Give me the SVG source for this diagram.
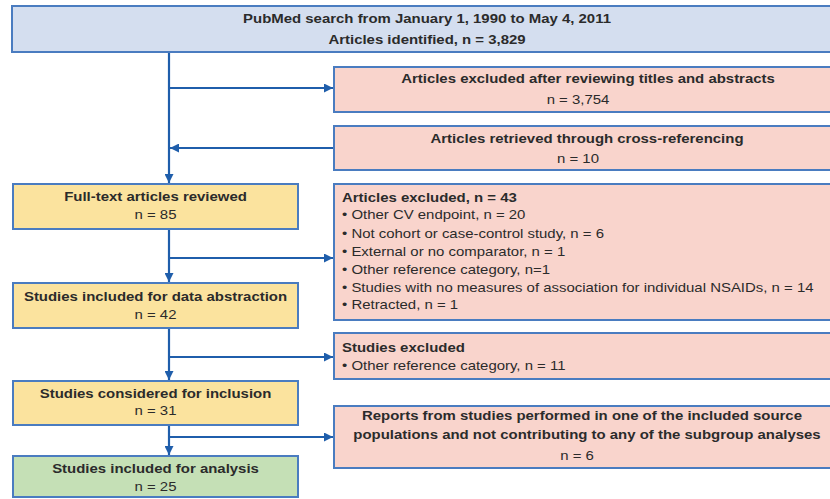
<svg xmlns="http://www.w3.org/2000/svg" width="830" height="499" viewBox="0 0 830 499">
<defs>
<style>
.box{stroke:#4a7cc0;stroke-width:2}
.blue{fill:#d4deef}
.pink{fill:#f9d4cc}
.yellow{fill:#fbe39e}
.green{fill:#c5e0b6}
text{font-family:"Liberation Sans",Arial,sans-serif;font-size:13px;fill:#2b2b2b}
.b{font-weight:bold}
.c{text-anchor:middle}
.conn{stroke:#1f5eab;stroke-width:2.2;fill:none}
</style>
<marker id="ah" viewBox="0 0 10 10" refX="10" refY="5" markerWidth="9" markerHeight="9" markerUnits="userSpaceOnUse" orient="auto">
<path d="M0,0 L10,5 L0,10 Z" fill="#1f5eab"/>
</marker>
</defs>
<rect width="830" height="499" fill="#ffffff"/>

<g id="connectors">
<path class="conn" d="M169,52 V183" marker-end="url(#ah)"/>
<path class="conn" d="M169,88 H333" marker-end="url(#ah)"/>
<path class="conn" d="M334,148 H170" marker-end="url(#ah)"/>
<path class="conn" d="M169,229 V282" marker-end="url(#ah)"/>
<path class="conn" d="M169,258 H333" marker-end="url(#ah)"/>
<path class="conn" d="M169,328 V380" marker-end="url(#ah)"/>
<path class="conn" d="M169,357 H333" marker-end="url(#ah)"/>
<path class="conn" d="M169,425 V455" marker-end="url(#ah)"/>
<path class="conn" d="M169,437 H333" marker-end="url(#ah)"/>
</g>

<g id="search">
<rect class="box blue" x="12" y="6" width="830" height="46"/>
<text class="b c" transform="translate(427 23) scale(1.15 1)">PubMed search from January 1, 1990 to May 4, 2011</text>
<text class="b c" transform="translate(427 44) scale(1.15 1)">Articles identified, n = 3,829</text>
</g>

<g id="excluded-titles">
<rect class="box pink" x="334" y="67" width="510" height="45"/>
<text class="b c" transform="translate(588 83) scale(1.15 1)">Articles excluded after reviewing titles and abstracts</text>
<text class="c" transform="translate(578 104) scale(1.15 1)">n = 3,754</text>
</g>

<g id="cross-ref">
<rect class="box pink" x="334" y="126" width="510" height="44"/>
<text class="b c" transform="translate(587 143) scale(1.15 1)">Articles retrieved through cross-referencing</text>
<text class="c" transform="translate(578 163) scale(1.15 1)">n = 10</text>
</g>

<g id="fulltext">
<rect class="box yellow" x="13" y="184" width="285" height="45"/>
<text class="b c" transform="translate(155.5 201) scale(1.15 1)">Full-text articles reviewed</text>
<text class="c" transform="translate(155.5 219) scale(1.15 1)">n = 85</text>
</g>

<g id="excluded-43">
<rect class="box pink" x="334" y="184" width="510" height="136"/>
<text class="b" transform="translate(342 202) scale(1.15 1)">Articles excluded, n = 43</text>
<text transform="translate(342 219) scale(1.15 1)">•  Other CV endpoint, n = 20</text>
<text transform="translate(342 238) scale(1.15 1)">•  Not cohort or case-control study, n = 6</text>
<text transform="translate(342 256) scale(1.15 1)">•  External or no comparator, n = 1</text>
<text transform="translate(342 274) scale(1.15 1)">•  Other reference category, n=1</text>
<text transform="translate(342 292) scale(1.15 1)">•  Studies with no measures of association for individual NSAIDs, n = 14</text>
<text transform="translate(342 309) scale(1.15 1)">•  Retracted, n = 1</text>
</g>

<g id="abstraction">
<rect class="box yellow" x="13" y="283" width="285" height="45"/>
<text class="b c" transform="translate(155.5 301) scale(1.15 1)">Studies included for data abstraction</text>
<text class="c" transform="translate(155.5 319) scale(1.15 1)">n = 42</text>
</g>

<g id="studies-excluded">
<rect class="box pink" x="334" y="333" width="510" height="46"/>
<text class="b" transform="translate(342 352) scale(1.15 1)">Studies excluded</text>
<text transform="translate(342 370) scale(1.15 1)">•  Other reference category, n = 11</text>
</g>

<g id="considered">
<rect class="box yellow" x="13" y="381" width="285" height="44"/>
<text class="b c" transform="translate(155.5 398) scale(1.15 1)">Studies considered for inclusion</text>
<text class="c" transform="translate(155.5 415) scale(1.15 1)">n = 31</text>
</g>

<g id="reports">
<rect class="box pink" x="334" y="406" width="510" height="62"/>
<text class="b c" transform="translate(582 420) scale(1.15 1)">Reports from studies performed in one of the included source</text>
<text class="b c" transform="translate(587 439) scale(1.15 1)">populations and not contributing to any of the subgroup analyses</text>
<text class="c" transform="translate(577 460) scale(1.15 1)">n = 6</text>
</g>

<g id="analysis">
<rect class="box green" x="13" y="456" width="285" height="41"/>
<text class="b c" transform="translate(155.5 473) scale(1.15 1)">Studies included for analysis</text>
<text class="c" transform="translate(155.5 491) scale(1.15 1)">n = 25</text>
</g>
</svg>
